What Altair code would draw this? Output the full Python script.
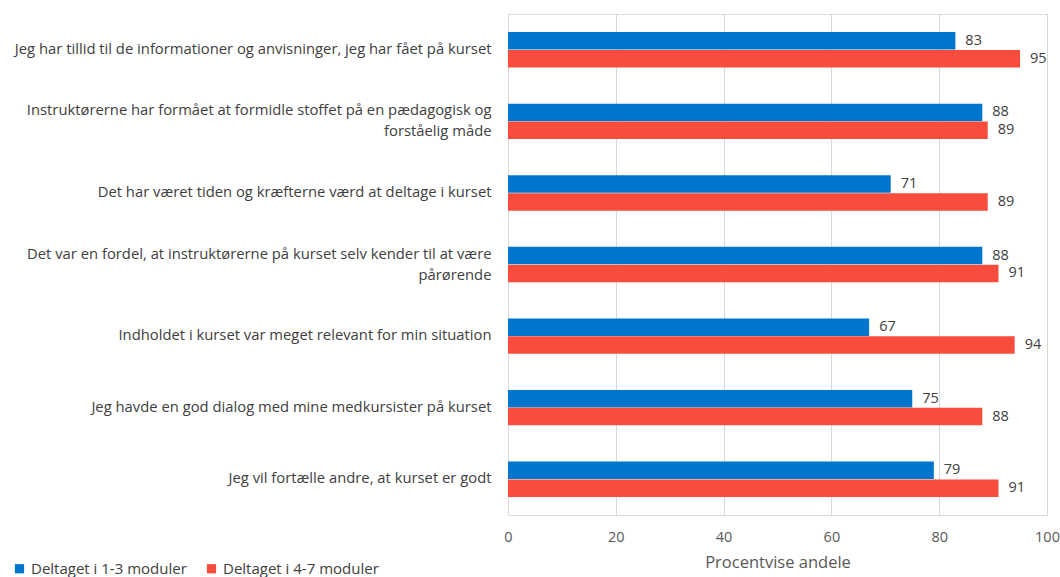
import altair as alt
import pandas as pd

categories = [
    "Jeg har tillid til de informationer og anvisninger, jeg har fået på kurset",
    "Instruktørerne har formået at formidle stoffet på en pædagogisk og|forståelig måde",
    "Det har været tiden og kræfterne værd at deltage i kurset",
    "Det var en fordel, at instruktørerne på kurset selv kender til at være|pårørende",
    "Indholdet i kurset var meget relevant for min situation",
    "Jeg havde en god dialog med mine medkursister på kurset",
    "Jeg vil fortælle andre, at kurset er godt",
]
series = ["Deltaget i 1-3 moduler", "Deltaget i 4-7 moduler"]
values_13 = [83, 88, 71, 88, 67, 75, 79]
values_47 = [95, 89, 89, 91, 94, 88, 91]
colors = ["#0075CE", "#F84C3D"]
x_ticks = [0, 20, 40, 60, 80, 100]

rows = []
for c, a, b in zip(categories, values_13, values_47):
    rows.append({"cat": c, "serie": series[0], "val": a})
    rows.append({"cat": c, "serie": series[1], "val": b})
df = pd.DataFrame(rows)

font = "Open Sans"

y_enc = alt.Y(
    "cat:N",
    sort=categories,
    title=None,
    scale=alt.Scale(paddingInner=0.5, paddingOuter=0.25),
    axis=alt.Axis(
        labelExpr="split(datum.label, '|')",
        labelFontSize=14.8,
        labelColor="#404040",
        labelFont=font,
        labelPadding=17,
        labelLimit=520,
        labelLineHeight=21,
        labelOffset=alt.ExprRef("indexof(datum.value, '|') >= 0 ? -10 : 0"),
        ticks=False,
        domain=False,
        labelBaseline="middle",
    ),
)
x_enc = alt.X(
    "val:Q",
    title="Procentvise andele",
    scale=alt.Scale(domain=[0, 100], nice=False),
    axis=alt.Axis(
        values=x_ticks,
        grid=True,
        gridColor="#D9D9D9",
        domain=False,
        ticks=False,
        labelFlush=False,
        labelFontSize=14.5,
        labelColor="#595959",
        labelFont=font,
        labelPadding=15,
        titleFontSize=16.5,
        titleColor="#595959",
        titleFont=font,
        titleFontWeight="normal",
        titlePadding=11,
    ),
)
yoff = alt.YOffset("serie:N", sort=series)

bars = alt.Chart(df).mark_bar(size=17.5).encode(
    y=y_enc,
    x=x_enc,
    yOffset=yoff,
    color=alt.Color(
        "serie:N",
        sort=series,
        scale=alt.Scale(domain=series, range=colors),
        legend=alt.Legend(
            title=None,
            orient="none",
            direction="horizontal",
            legendX=-496,
            legendY=547,
            symbolType="square",
            symbolSize=85,
            symbolStrokeWidth=0,
            labelFontSize=15,
            labelFont=font,
            labelColor="#404040",
            columnPadding=17,
            labelOffset=4,
        ),
    ),
)

labels = alt.Chart(df).mark_text(
    align="left", dx=10, fontSize=14.5, font=font, color="#404040", baseline="middle"
).encode(
    y=alt.Y("cat:N", sort=categories),
    x=alt.X("val:Q"),
    yOffset=yoff,
    text=alt.Text("val:Q"),
)

chart = (
    alt.layer(bars, labels)
    .properties(
        width=539,
        height=501,
        autosize=alt.AutoSizeParams(type="none"),
        padding={"left": 508, "top": 14, "right": 13, "bottom": 62},
    )
    .configure_view(stroke=None)
    .configure(background="white")
)

chart.save("out.html", embed_options={"renderer": "svg", "actions": False})
